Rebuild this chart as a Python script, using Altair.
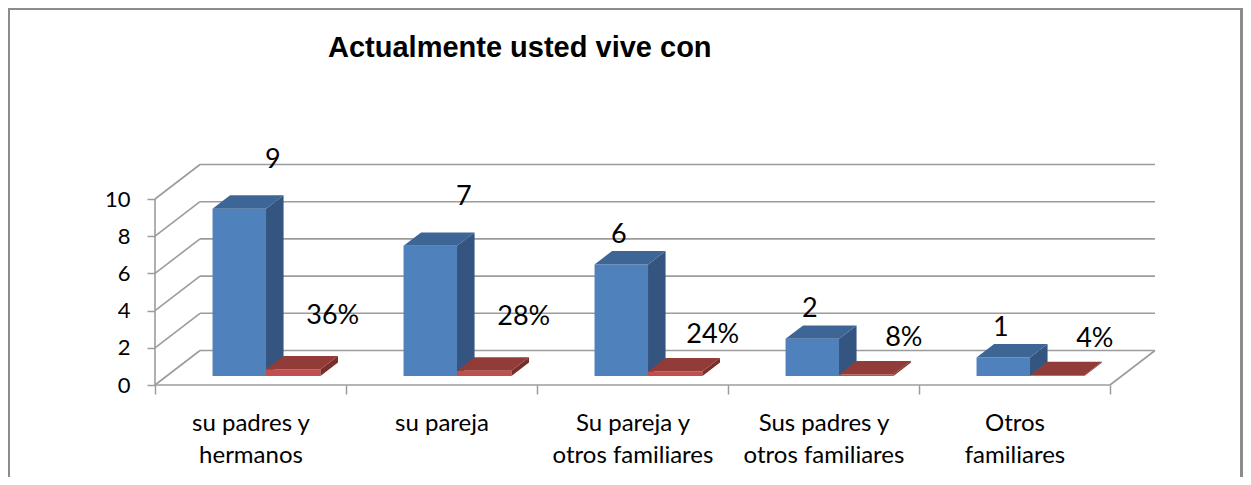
import json
import altair as alt
import pandas as pd

# ---------------- data ----------------
category_lines = [
    ["su padres y", "hermanos"],
    ["su pareja"],
    ["Su pareja y", "otros familiares"],
    ["Sus padres y", "otros familiares"],
    ["Otros", "familiares"],
]
counts = [9, 7, 6, 2, 1]
percents = [36, 28, 24, 8, 4]
y_ticks = [0, 2, 4, 6, 8, 10]
title_text = "Actualmente usted vive con"

# ---------------- layout constants (pixels -> scale units) ----------------
PX_CAT = 191.0      # pixels per category on the front plane
PX_UNIT = 18.6      # pixels per value unit
W, H = 1000, 245    # plot area
XMAX = W / PX_CAT
YMAX = H / PX_UNIT
DX = 45.0 / PX_CAT      # full depth offset in x units
DY = 34.5 / PX_UNIT     # full depth offset in y units
F0, F1 = 0.26, 0.65     # bar front/back depth fractions
N = len(counts)

BLUE = {"front": "#4F81BD", "side": "#34557F", "top": "#3D6697"}
RED = {"front": "#C0504D", "side": "#7A2E2C", "top": "#923C39"}
GRID = "#9C9C9C"

# ---------------- axes ----------------
x_values = [k * 0.5 for k in range(2 * N + 1)]
label_expr = (f"datum.value % 1 == 0.5 ? {json.dumps(category_lines)}[floor(datum.value)] : ''")
x_axis = alt.Axis(
    values=x_values, labelExpr=label_expr, domain=False, grid=False, title=None,
    tickSize=9, tickColor=GRID, tickWidth=1.5,
    tickOpacity={"condition": {"test": "datum.value % 1 == 0", "value": 1}, "value": 0},
    labelFont="Lato", labelFontSize=24, labelColor="#000000", labelBaseline="top",
    labelLineHeight=32, labelPadding=17, labelOverlap=False, labelFlush=False, labelBound=False,
)
y_axis = alt.Axis(
    values=y_ticks, domain=False, grid=False, title=None,
    tickSize=8, tickColor=GRID, tickWidth=1.5,
    labelFont="Lato", labelFontSize=22, labelColor="#000000", labelPadding=17,
)


def X(field):
    return alt.X(field, type="quantitative", scale=alt.Scale(domain=[0, XMAX], nice=False, zero=False),
                 axis=x_axis)


def Y(field):
    return alt.Y(field, type="quantitative", scale=alt.Scale(domain=[0, YMAX], nice=False, zero=False),
                 axis=y_axis)


# ---------------- 3D frame lines ----------------
grid_rows = []
for v in y_ticks:
    grid_rows.append(dict(x=0, y=v, x2=DX, y2=v + DY))            # left wall
    grid_rows.append(dict(x=DX, y=v + DY, x2=N + DX, y2=v + DY))  # back wall
grid_rows.append(dict(x=0, y=0, x2=N, y2=0))                      # floor front
grid_rows.append(dict(x=N, y=0, x2=N + DX, y2=DY))                # floor right
grid_rows.append(dict(x=0, y=0, x2=0, y2=max(y_ticks)))           # value axis line
grid_df = pd.DataFrame(grid_rows)

# ---------------- bar faces ----------------
front_rows, side_rows, top_rows, label_rows = [], [], [], []
for i, (c, p) in enumerate(zip(counts, percents)):
    for series, v, xl, xr in (("n", c, i + 0.24, i + 0.52), ("p", p / 100.0, i + 0.52, i + 0.805)):
        fid = f"{series}{i}"
        front_rows.append(dict(id=fid, s=series, x=xl + F0 * DX, x2=xr + F0 * DX, y=F0 * DY, y2=v + F0 * DY))
        side_rows.append(dict(id=fid, s=series, x=xr + F0 * DX, y=F0 * DY, y2=v + F0 * DY))
        side_rows.append(dict(id=fid, s=series, x=xr + F1 * DX, y=F1 * DY, y2=v + F1 * DY))
        top_rows.append(dict(id=fid, s=series, y=v + F0 * DY, x=xl + F0 * DX, x2=xr + F0 * DX))
        top_rows.append(dict(id=fid, s=series, y=v + F1 * DY, x=xl + F1 * DX, x2=xr + F1 * DX))
    label_rows.append(dict(
        c=c, big=c >= 7,
        ntext=str(c), ptext=f"{p}%",
        nx=i + 0.38 + F1 * DX, ny=c + F1 * DY,
        px=i + 0.6625 + F1 * DX, py=p / 100.0 + F1 * DY,
    ))
front_df = pd.DataFrame(front_rows)
side_df = pd.DataFrame(side_rows)
top_df = pd.DataFrame(top_rows)
label_df = pd.DataFrame(label_rows)

grid = alt.Chart(grid_df).mark_rule(color=GRID, strokeWidth=1.6).encode(
    x=X("x"), y=Y("y"), x2="x2", y2="y2"
)


def bar_layers(series, colors):
    fr = alt.Chart(front_df).transform_filter(f"datum.s == '{series}'").mark_rect(
        color=colors["front"]).encode(x=X("x"), x2="x2", y=Y("y"), y2="y2")
    sd = alt.Chart(side_df).transform_filter(f"datum.s == '{series}'").mark_area(
        color=colors["side"], orient="vertical", interpolate="linear").encode(
        x=X("x"), y=Y("y"), y2="y2", detail="id:N")
    tp = alt.Chart(top_df).transform_filter(f"datum.s == '{series}'").mark_area(
        color=colors["top"], orient="horizontal", interpolate="linear").encode(
        y=Y("y"), x=X("x"), x2="x2", detail="id:N")
    return [fr, sd, tp]


def label_layer(textf, xf, yf, big, dx, dy):
    return alt.Chart(label_df).transform_filter(
        f"datum.big == {'true' if big else 'false'}").mark_text(
        font="Lato", fontSize=27, color="#000000", align="center", baseline="middle", dx=dx, dy=dy
    ).encode(x=X(xf), y=Y(yf), text=f"{textf}:N")


frame = alt.Chart(grid_df).mark_rect(fillOpacity=0, stroke="#8C8C8C", strokeWidth=1.5).encode(
    x=alt.value(-146.5), x2=alt.value(1086.5), y=alt.value(-131.5), y2=alt.value(400)
)

layers = [frame, grid] + bar_layers("n", BLUE) + bar_layers("p", RED) + [
    label_layer("ntext", "nx", "ny", True, 16, -35),
    label_layer("ntext", "nx", "ny", False, -20, -16),
    label_layer("ptext", "px", "py", True, 22, -40),
    label_layer("ptext", "px", "py", False, 20, -23),
]

chart = alt.layer(*layers).properties(
    width=W, height=H,
    autosize=alt.AutoSizeParams(type="none"),
    padding={"left": 147, "top": 132, "right": 88, "bottom": 92},
    title=alt.TitleParams(
        text=title_text, anchor="start", frame="group", dx=173, offset=-78,
        font="Liberation Sans", fontSize=29, fontWeight="bold", color="#000000",
        baseline="alphabetic",
    ),
).configure_view(strokeWidth=0)

chart.save("out.html", embed_options={"renderer": "svg", "actions": False})
